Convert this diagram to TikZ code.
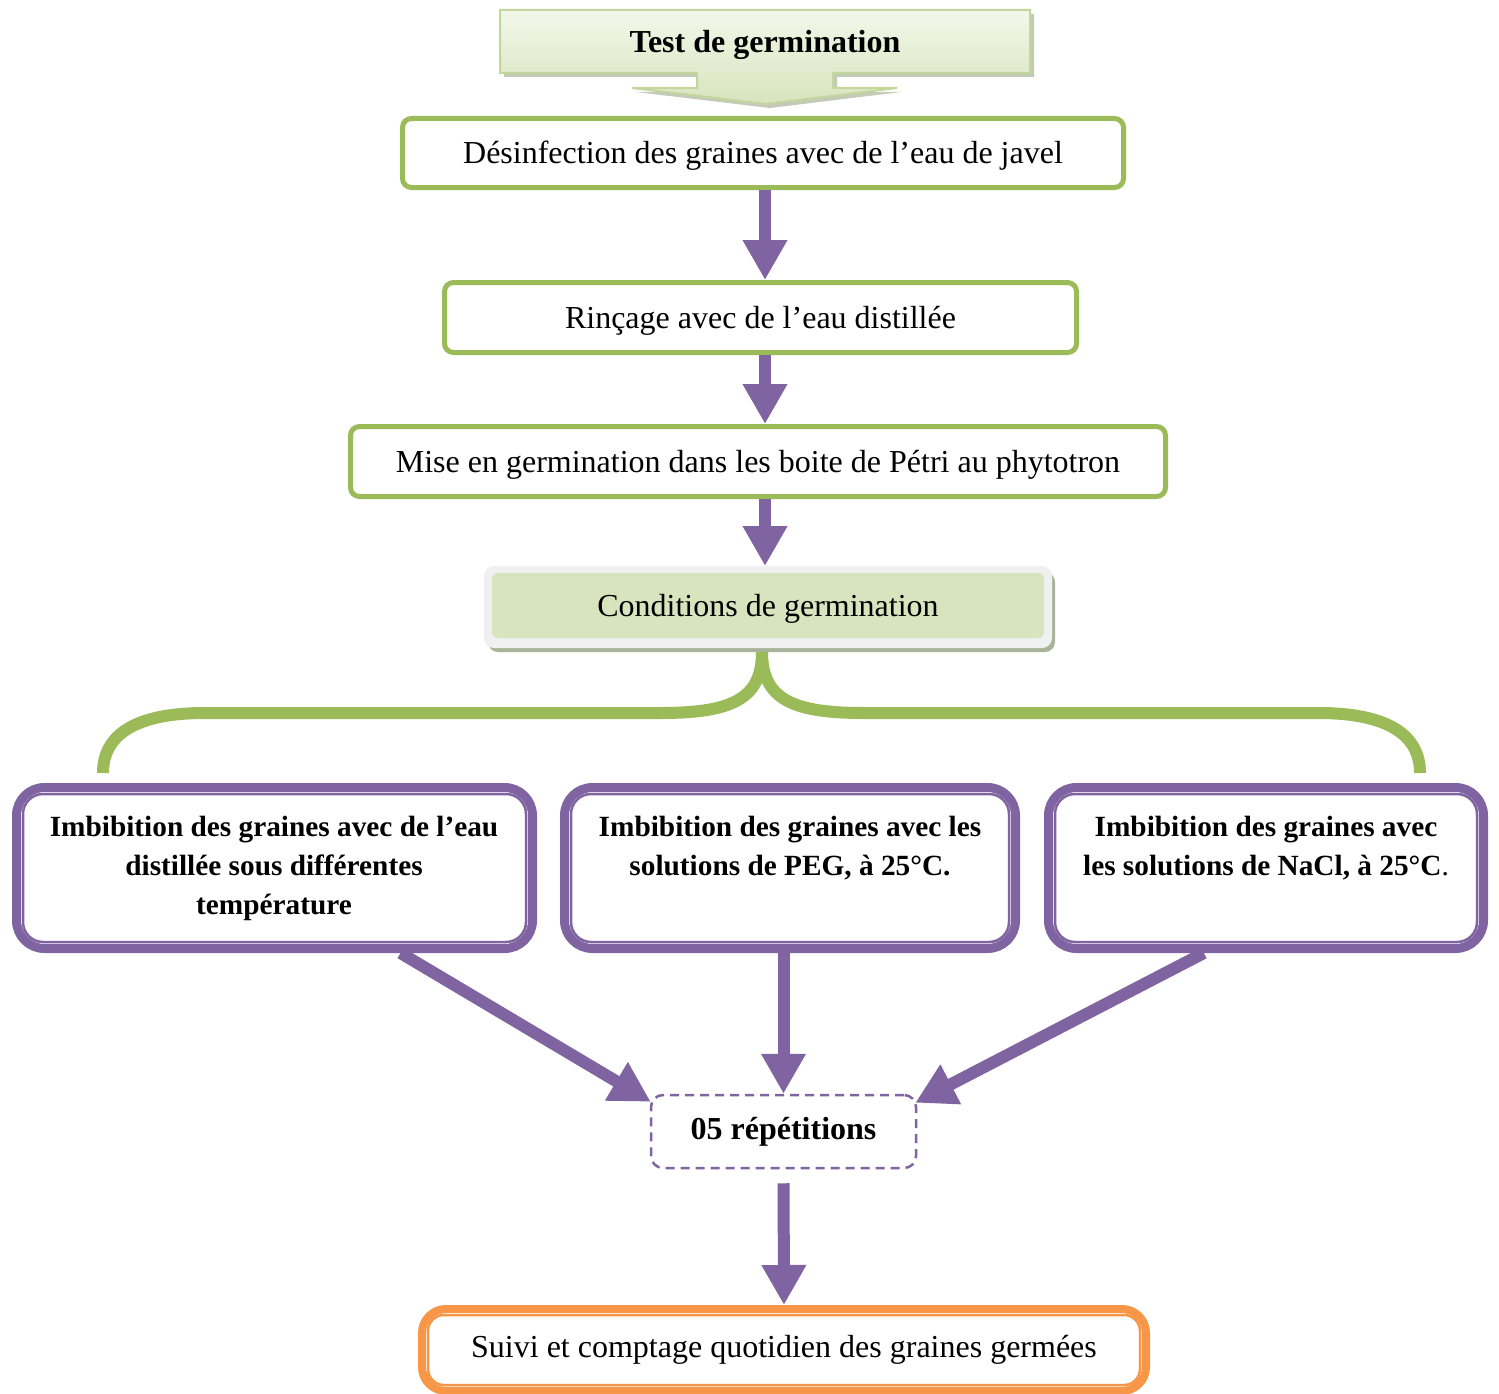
\documentclass[tikz,border=0pt]{standalone}
\usepackage{fontspec}
\setmainfont{Liberation Serif}
\usetikzlibrary{arrows.meta,calc}
\definecolor{vgreen}{HTML}{9BBB59}
\definecolor{vpurple}{HTML}{8064A2}
\definecolor{vorange}{HTML}{F79646}
\definecolor{lgreen}{HTML}{D7E4BD}
\definecolor{pgreen}{HTML}{F3F7EA}
\definecolor{bgreen}{HTML}{C3D69B}
\definecolor{sgreen}{HTML}{A9B39A}
\begin{document}
\begin{tikzpicture}[x=1pt,y=-1pt,
  reg/.style={font=\fontsize{32}{39}\selectfont,text height=28pt,text depth=7pt},
  bld/.style={font=\fontsize{29.3}{39}\selectfont\bfseries,align=center},
  gbox/.style={draw=vgreen,line width=5pt,rounded corners=9pt,fill=white,inner sep=0pt,reg},
  pbox/.style={draw=vpurple,line width=9pt,rounded corners=28pt,fill=white,inner sep=0pt},
  pinner/.style={draw=vpurple,line width=2.5pt,rounded corners=20pt},
  parrow/.style={draw=vpurple,line width=12pt,-{Triangle[width=42pt,length=40pt]}},
  brace/.style={draw=vgreen,line width=12pt},
]
\useasboundingbox (0,0) rectangle (1499,1394);
\fill[white] (0,0) rectangle (1499,1394);

% top arrow-box
\fill[sgreen!70] (504,14) -- (1034,14) -- (1034,77) -- (837,77) -- (837,92) -- (901,92) -- (770,108) -- (636,92) -- (701,92) -- (701,77) -- (504,77) -- cycle;
\shade[top color=pgreen,bottom color=lgreen,draw=bgreen,line width=2pt]
  (500,10) -- (1030,10) -- (1030,73) -- (833,73) -- (833,88) -- (897,88) -- (766,104) -- (632,88) -- (697,88) -- (697,73) -- (500,73) -- cycle;
\node[font=\fontsize{32}{39}\selectfont\bfseries] (test) at (765,45) {Test de germination};

% green boxes
\node[gbox,minimum width=721pt,minimum height=69pt] (d1) at (763,153) {Désinfection des graines avec de l’eau de javel};
\node[gbox,minimum width=632pt,minimum height=70pt] (d2) at (760.5,317.5) {Rinçage avec de l’eau distillée};
\node[gbox,minimum width=815pt,minimum height=70pt] (d3) at (758,461.5) {Mise en germination dans les boite de Pétri au phytotron};

\draw[parrow] (d1.south -| 765,0) -- (d2.north -| 765,0);
\draw[parrow] (d2.south -| 765,0) -- (d3.north -| 765,0);

% brace
\coordinate (bl) at (103,773);
\coordinate (br) at (1420,773);
\coordinate (bt) at (762,652);
\draw[brace] (bt) .. controls (762,700) and (730,713) .. (660,713) -- (205,713) .. controls (135,713) and (103,735) .. (bl);
\draw[brace] (bt) .. controls (762,700) and (794,713) .. (864,713) -- (1318,713) .. controls (1388,713) and (1420,735) .. (br);
\fill[vgreen] (bt) circle (6pt);

% conditions box
\fill[sgreen,rounded corners=10pt] (488,572) rectangle (1055,652);
\fill[black!6,rounded corners=10pt] (484,566) rectangle (1052,648);
\node[fill=lgreen,rounded corners=6pt,minimum width=552pt,minimum height=65pt,inner sep=0pt,reg] (d4) at (768,605.5) {Conditions de germination};
\draw[parrow] (d3.south -| 765,0) -- (765,566);

% purple boxes
\node[pbox,minimum width=516pt,minimum height=161pt] (L) at (274.5,868) {};
\node[pbox,minimum width=451pt,minimum height=161pt] (M) at (790,868) {};
\node[pbox,minimum width=435pt,minimum height=161pt] (R) at (1266,868) {};
\foreach \b in {L,M,R}{
  \draw[pinner] ([shift={(11,11)}]\b.north west) rectangle ([shift={(-11,-11)}]\b.south east);
}
\node[bld] (tL) at (274,868) {Imbibition des graines avec de l’eau\\distillée sous différentes\\température};
\node[bld] (tM) at (790,848.5) {Imbibition des graines avec les\\solutions de PEG, à 25°C.};
\node[bld] (tR) at (1266,848.5) {Imbibition des graines avec\\les solutions de NaCl, à 25°C\textmd{.}};

% repetitions
\node[draw=vpurple,line width=2.5pt,dash pattern=on 9pt off 6pt,rounded corners=12pt,minimum width=265pt,minimum height=73pt,inner sep=0pt,font=\fontsize{32}{39}\selectfont\bfseries] (rep) at (783.5,1131.5) {05 répétitions};

\draw[parrow] ($(L.south west)!0.74!(L.south east)$) -- ([shift={(1,8)}]rep.north west);
\draw[parrow] (rep.north |- M.south) -- (rep.north);
\draw[parrow] ($(R.south west)!0.36!(R.south east)$) -- ([shift={(-2,9)}]rep.north east);

% final box
\node[draw=vorange,line width=8pt,rounded corners=24pt,fill=white,minimum width=724pt,minimum height=82pt,inner sep=0pt] (fin) at (784,1350) {};
\draw[vorange,line width=2.5pt,rounded corners=16pt] ([shift={(10,10)}]fin.north west) rectangle ([shift={(-10,-10)}]fin.south east);
\node[reg] (tfin) at (784,1347) {Suivi et comptage quotidien des graines germées};

\draw[parrow,shorten <=14pt] (rep.south) -- (fin.north);
\end{tikzpicture}
\end{document}
